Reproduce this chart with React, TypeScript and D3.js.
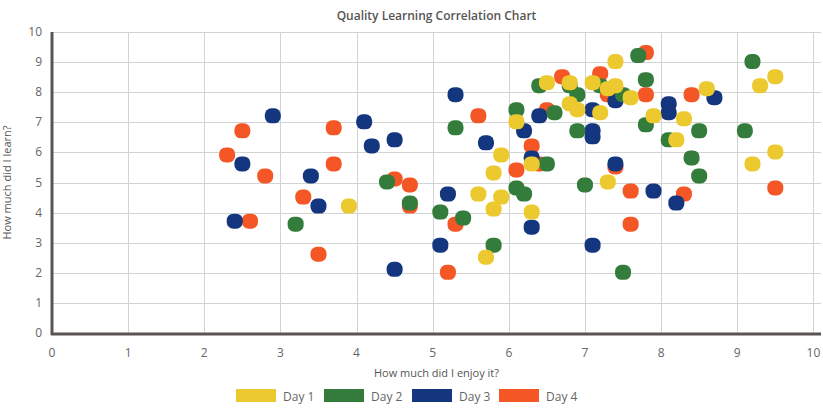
import { useCallback, useEffect, useRef } from 'react';

import { scaleLinear, select } from 'd3';

type Point = [number, number];

// enjoyment (x) vs learning (y) ratings per day
const day1: Point[] = [
  [3.9, 4.2], [6.1, 7.0], [5.9, 5.9], [5.8, 5.3], [5.6, 4.6], [5.9, 4.5],
  [5.8, 4.1], [5.7, 2.5], [6.3, 5.6], [6.3, 4.0], [6.5, 8.3], [6.8, 8.3],
  [7.1, 8.3], [7.3, 8.1], [7.4, 8.2], [7.4, 9.0], [7.6, 7.8], [6.8, 7.6],
  [6.9, 7.4], [7.2, 7.3], [7.9, 7.2], [8.3, 7.1], [8.6, 8.1], [8.2, 6.4],
  [9.3, 8.2], [9.5, 8.5], [9.2, 5.6], [9.5, 6.0], [7.3, 5.0],
];
const day2: Point[] = [
  [3.2, 3.6], [4.4, 5.0], [4.7, 4.3], [5.1, 4.0], [5.4, 3.8], [5.3, 6.8],
  [5.8, 2.9], [6.1, 7.4], [6.1, 4.8], [6.2, 4.6], [6.4, 8.2], [6.6, 7.3],
  [6.8, 8.2], [6.9, 7.9], [6.9, 6.7], [7.2, 8.2], [7.5, 7.9], [7.7, 9.2],
  [7.8, 8.4], [7.8, 6.9], [8.1, 6.4], [8.5, 6.7], [8.4, 5.8], [8.5, 5.2],
  [9.2, 9.0], [9.1, 6.7], [7.0, 4.9], [6.5, 5.6], [7.5, 2.0],
];
const day3: Point[] = [
  [2.9, 7.2], [2.5, 5.6], [3.4, 5.2], [3.5, 4.2], [2.4, 3.7], [4.1, 7.0],
  [4.2, 6.2], [4.5, 6.4], [4.5, 2.1], [5.3, 7.9], [5.7, 6.3], [5.2, 4.6],
  [5.1, 2.9], [6.2, 6.7], [6.3, 5.8], [6.3, 3.5], [6.4, 7.2], [7.1, 7.4],
  [7.1, 6.7], [7.1, 6.5], [7.4, 7.7], [8.1, 7.6], [8.1, 7.3], [8.7, 7.8],
  [7.4, 5.6], [7.9, 4.7], [8.2, 4.3], [7.1, 2.9],
];
const day4: Point[] = [
  [2.3, 5.9], [2.5, 6.7], [2.8, 5.2], [2.6, 3.7], [3.3, 4.5], [3.5, 2.6],
  [3.7, 6.8], [3.7, 5.6], [4.5, 5.1], [4.7, 4.9], [4.7, 4.2], [5.3, 3.6],
  [5.2, 2.0], [5.6, 7.2], [6.1, 5.4], [6.3, 6.2], [6.4, 5.6], [6.5, 7.4],
  [6.7, 8.5], [7.2, 8.6], [7.3, 7.9], [7.8, 9.3], [7.8, 7.9], [8.4, 7.9],
  [7.4, 5.5], [7.6, 4.7], [7.6, 3.6], [8.3, 4.6], [9.5, 4.8],
];

const seriesNames = ['Day 1', 'Day 2', 'Day 3', 'Day 4'];
const seriesData = [day1, day2, day3, day4];
const seriesColors = ['#ECC92E', '#347C3B', '#13367F', '#F45625'];
const tickValues = [0, 1, 2, 3, 4, 5, 6, 7, 8, 9, 10];

export default function App() {
  const containerRef = useRef<HTMLDivElement>(null);

  const initChart = useCallback(() => {
    const container = containerRef.current;
    if (!container) return;

    const width = 823,
      height = 411,
      left = 52,
      right = 821,
      top = 32,
      bottom = 333;
    const font = "'Open Sans', sans-serif";

    const div = select(container);
    div.select('svg').remove();

    const svg = div
      .append('svg')
      .attr('width', width)
      .attr('height', height)
      .style('display', 'block')
      .style('background', '#fff');

    const x = scaleLinear().domain([0, 10.1]).range([left, right]);
    const y = scaleLinear().domain([0, 10]).range([bottom, top]);

    // title
    svg
      .append('text')
      .attr('x', (left + right) / 2)
      .attr('y', 20)
      .attr('text-anchor', 'middle')
      .attr('font-family', font)
      .attr('font-size', 12)
      .attr('font-weight', 600)
      .attr('fill', '#555')
      .text('Quality Learning Correlation Chart');

    // grid
    const grid = svg.append('g').attr('stroke', '#d3d3d3').attr('stroke-width', 1);
    grid
      .selectAll('line.h')
      .data(tickValues)
      .join('line')
      .attr('class', 'h')
      .attr('x1', left)
      .attr('x2', right)
      .attr('y1', (d) => Math.round(y(d)) + 0.5)
      .attr('y2', (d) => Math.round(y(d)) + 0.5);
    grid
      .selectAll('line.v')
      .data(tickValues)
      .join('line')
      .attr('class', 'v')
      .attr('y1', top)
      .attr('y2', bottom)
      .attr('x1', (d) => Math.round(x(d)) + 0.5)
      .attr('x2', (d) => Math.round(x(d)) + 0.5);

    // axis lines
    svg
      .append('line')
      .attr('x1', left)
      .attr('x2', left)
      .attr('y1', top)
      .attr('y2', bottom + 2)
      .attr('stroke', '#5a5553')
      .attr('stroke-width', 3);
    svg
      .append('line')
      .attr('x1', left - 1)
      .attr('x2', right)
      .attr('y1', bottom + 1)
      .attr('y2', bottom + 1)
      .attr('stroke', '#5a5553')
      .attr('stroke-width', 3);

    // tick labels
    const ticks = svg
      .append('g')
      .attr('font-family', font)
      .attr('font-size', 12)
      .attr('fill', '#666');
    ticks
      .selectAll('text.y')
      .data(tickValues)
      .join('text')
      .attr('class', 'y')
      .attr('x', 42)
      .attr('y', (d) => y(d) + 4)
      .attr('text-anchor', 'end')
      .text((d) => d);
    ticks
      .selectAll('text.x')
      .data(tickValues)
      .join('text')
      .attr('class', 'x')
      .attr('x', (d) => x(d))
      .attr('y', 357)
      .attr('text-anchor', 'middle')
      .text((d) => d);

    // axis titles
    svg
      .append('text')
      .attr('x', (left + right) / 2)
      .attr('y', 377)
      .attr('text-anchor', 'middle')
      .attr('font-family', font)
      .attr('font-size', 11)
      .attr('fill', '#555')
      .text('How much did I enjoy it?');
    svg
      .append('text')
      .attr('transform', `translate(11,${(top + bottom) / 2}) rotate(-90)`)
      .attr('text-anchor', 'middle')
      .attr('font-family', font)
      .attr('font-size', 11)
      .attr('fill', '#555')
      .text('How much did I learn?');

    // points: first series drawn last so it sits on top
    const size = 16;
    const points = svg.append('g');
    seriesData
      .map((data, i) => ({ data, color: seriesColors[i] }))
      .reverse()
      .forEach((s) => {
        points
          .append('g')
          .attr('fill', s.color)
          .selectAll('rect')
          .data(s.data)
          .join('rect')
          .attr('x', (d) => x(d[0]) - size / 2)
          .attr('y', (d) => y(d[1]) - size / 2)
          .attr('width', size)
          .attr('height', size - 1)
          .attr('rx', 6.5)
          .attr('ry', 6.5);
      });

    // legend
    const legendX = [236, 324, 412, 499];
    const legend = svg
      .append('g')
      .attr('font-family', font)
      .attr('font-size', 12)
      .selectAll('g')
      .data(seriesNames)
      .join('g')
      .attr('transform', (_, i) => `translate(${legendX[i]},389)`);
    legend
      .append('rect')
      .attr('width', 40)
      .attr('height', 13)
      .attr('fill', (_, i) => seriesColors[i]);
    legend
      .append('text')
      .attr('x', 47)
      .attr('y', 11.5)
      .attr('fill', '#666')
      .text((d) => d);
  }, []);

  const destroyChart = useCallback(() => {
    const container = containerRef.current;
    if (!container) return;
    select(container).select('svg').remove();
  }, []);

  useEffect(() => {
    initChart();
    return destroyChart;
  }, [destroyChart, initChart]);

  return (
    <div
      ref={containerRef}
      style={{ position: 'absolute', left: 0, top: 0, background: '#fff' }}
    />
  );
}
